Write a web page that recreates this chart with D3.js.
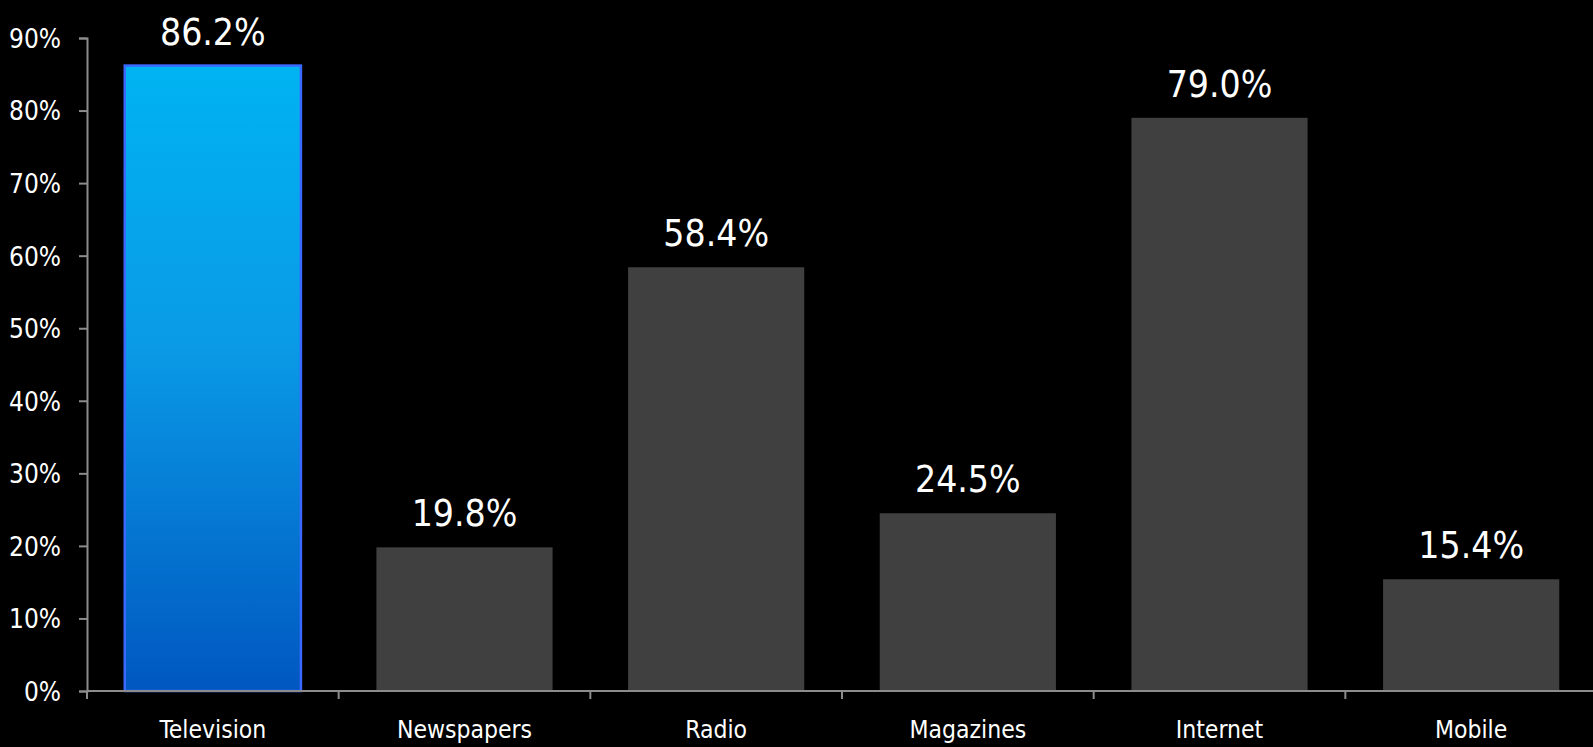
<!DOCTYPE html>
<html>
<head>
<meta charset="utf-8">
<script src="https://cdn.jsdelivr.net/npm/d3@7"></script>
<style>
  html, body { margin: 0; padding: 0; background: #000; }
  svg { display: block; }
  text { font-family: "DejaVu Sans Condensed", "DejaVu Sans", sans-serif; font-stretch: condensed; fill: #fff; }
</style>
</head>
<body>
<svg id="chart" width="1593" height="747"></svg>
<script>
// Share of respondents using each medium
const categories = ["Television", "Newspapers", "Radio", "Magazines", "Internet", "Mobile"];
const values = [86.2, 19.8, 58.4, 24.5, 79.0, 15.4];
const highlighted = ["Television"];
const yTicks = [0, 10, 20, 30, 40, 50, 60, 70, 80, 90];

const width = 1593, height = 747;
const margin = { top: 38, right: -4, bottom: 56, left: 87 };

const svg = d3.select("#chart");

const x = d3.scaleBand()
  .domain(categories)
  .range([margin.left, width - margin.right])
  .paddingInner(0.3)
  .paddingOuter(0.15);

const y = d3.scaleLinear()
  .domain([0, 90])
  .range([height - margin.bottom, margin.top]);

// gradient for the highlighted bar
const defs = svg.append("defs");
const grad = defs.append("linearGradient")
  .attr("id", "hiGrad").attr("x1", 0).attr("y1", 0).attr("x2", 0).attr("y2", 1);
grad.append("stop").attr("offset", "0%").attr("stop-color", "#00b3f1");
grad.append("stop").attr("offset", "45%").attr("stop-color", "#0a9ae6");
grad.append("stop").attr("offset", "100%").attr("stop-color", "#0057c0");

const data = categories.map((c, i) => ({ cat: c, value: values[i] }));

// bars
svg.append("g").selectAll("rect")
  .data(data)
  .join("rect")
  .attr("x", d => x(d.cat))
  .attr("y", d => y(d.value))
  .attr("width", x.bandwidth())
  .attr("height", d => y(0) - y(d.value))
  .attr("fill", d => highlighted.includes(d.cat) ? "url(#hiGrad)" : "#404040")
  .attr("stroke", d => highlighted.includes(d.cat) ? "#3b68ff" : "none")
  .attr("stroke-width", 2.5);

// value labels
svg.append("g").selectAll("text")
  .data(data)
  .join("text")
  .attr("x", d => x(d.cat) + x.bandwidth() / 2)
  .attr("y", d => y(d.value) - 21)
  .attr("text-anchor", "middle")
  .attr("font-size", 37)
  .text(d => d.value.toFixed(1) + "%");

// y axis
const yAxis = svg.append("g")
  .attr("transform", `translate(${margin.left},0)`)
  .call(d3.axisLeft(y).tickValues(yTicks).tickFormat(d => d + "%").tickSize(8).tickPadding(18));
yAxis.select(".domain").attr("stroke", "#8c8c8c").attr("stroke-width", 2);
yAxis.selectAll(".tick line").attr("stroke", "#8c8c8c").attr("stroke-width", 2);
yAxis.selectAll(".tick text")
  .attr("font-size", 26)
  .attr("dy", "0.36em")
  .style("font-family", "'DejaVu Sans Condensed', 'DejaVu Sans', sans-serif")
  .attr("fill", "#fff");

// x axis: line along the baseline with ticks at band boundaries
const xAxisG = svg.append("g");
xAxisG.append("line")
  .attr("x1", margin.left).attr("x2", width)
  .attr("y1", y(0)).attr("y2", y(0))
  .attr("stroke", "#8c8c8c").attr("stroke-width", 2);
const step = x.step();
xAxisG.selectAll("line.bt")
  .data(categories)
  .join("line")
  .attr("class", "bt")
  .attr("x1", d => x(d) - x.paddingInner() * step / 2)
  .attr("x2", d => x(d) - x.paddingInner() * step / 2)
  .attr("y1", y(0))
  .attr("y2", y(0) + 8)
  .attr("stroke", "#8c8c8c").attr("stroke-width", 2);

// category labels
xAxisG.selectAll("text")
  .data(categories)
  .join("text")
  .attr("x", d => x(d) + x.bandwidth() / 2)
  .attr("y", y(0) + 47)
  .attr("text-anchor", "middle")
  .attr("font-size", 24.5)
  .text(d => d);
</script>
</body>
</html>
